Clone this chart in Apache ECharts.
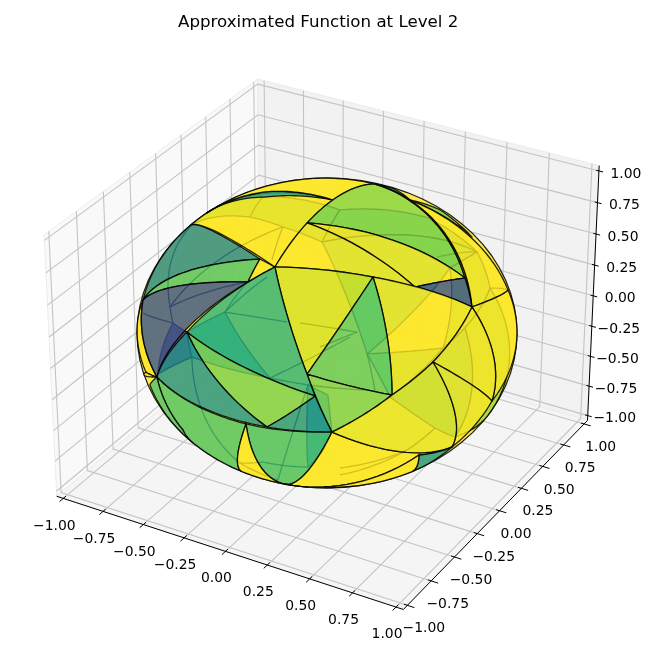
<!DOCTYPE html>
<html><head><meta charset="utf-8">
<style>html,body{margin:0;padding:0;background:#fff}#c{width:649px;height:658px}</style>
<script src="https://cdn.jsdelivr.net/npm/echarts@6/dist/echarts.min.js"></script>
</head><body><div id="c"></div>
<script>
const chartTitle = 'Approximated Function at Level 2';
const tickValues = [-1,-0.75,-0.5,-0.25,0,0.25,0.5,0.75,1];
const tickLabels = ['\u22121.00','\u22120.75','\u22120.50','\u22120.25','0.00','0.25','0.50','0.75','1.00'];

// sphere vertices, in view-disc coordinates (horizontal, vertical; limb radius = 1)
const frontVertices = {
 A:[-.274,.426],B:[-.353,.477],C:[-.416,.329],Tl:[-.721,.697],Li:[-.968,.213],D:[-.895,-.284],O:[-.737,.006],
 N:[-.063,-.406],M:[-.105,-.265],Q:[-.316,-.606],K:[.026,-.639],P:[-.426,-.587],R:[-.447,-.897],S:[-.221,-.987],
 F:[-.105,.710],T:[.253,.961],E:[.726,.355],U:[.437,.858],G:[.463,.297],H:[.763,.168],W:[.953,.277],L:[.242,.361],
 J:[.342,-.400],I:[.558,-.187],X:[.868,-.439],Y:[.658,-.735],Z:[.484,-.787],V1:[-.637,.781],V2:[.032,.858],
 t0:[-.142,1],s1:[-.326,.910],s2:[-.326,.877],t1:[.342,.935],t2:[.595,.794],t3:[.763,.619],
 l0:[-1,.052],l1:[-.953,-.252],l2:[-.968,-.271],l3:[-.932,-.335],l4:[-.721,-.723],h1:[-.758,-.626],
 b0:[.447,-.903],b1:[.358,-.935],b2:[.068,-.994],r0:[1,.019]
};
const frontFaces = [
 ['Li','l0','l1','D'],['l2','D','l1'],['Tl','B','Li'],['Li','B','C'],['Li','C','D'],['B','A','C'],
 ['Tl','V1','V2','A'],['V1','s1','V2','s2'],['V1','s1','V2','T','t0'],['T','t1','U'],['U','t3','t2'],
 ['F','T','E'],['T','U','H','E'],['U','W','H'],['H','W','r0','X'],['F','E','G'],['A','F','G'],['E','H','G'],
 ['A','L','M'],['L','H','I','J'],['L','M','J'],['M','J','K'],['Q','N','K'],['A','M','N','O'],['O','N','Q'],
 ['D','O','Q'],['D','P','R','l4','h1'],['D','h1','l4','l3'],['P','K','S'],['P','R','S'],['K','Y','Z','S'],['I','J','K','Y'],
 ['H','I','X'],['I','X','Y'],['Z','Y','b0'],['S','Z','b0','b1','b2']
];
const frontValues = [1,1,.46,.72,.25,1,1,.55,1,.55,.8,.82,1,1,1,1,1,.25,.94,1,.75,.8,.52,.64,.8,.5,.72,.72,.7,1,1,.97,1,1,.52,1];

const backVertices = {
 e:[1,0],n:[0,1],w:[-1,0],s:[0,-1],
 p1:[-.232,.684],p2:[-.026,.587],p3:[-.405,.748],p4:[-.337,.877],p5:[-.711,.697],p6:[-.826,.168],p7:[-.421,.329],
 p8:[-.537,.135],p9:[-.211,.071],p10:[-.316,.361],p11:[-.737,.006],p13:[-.811,.065],p14:[-.711,-.155],p15:[-.300,-.290],
 p16:[-.105,-.174],p17:[.121,-.026],p18:[-.100,-.335],p19:[.200,-.368],p20:[-.458,-.839],p21:[-.342,-.832],p22:[-.100,-.865],
 p23:[-.258,-.948],p24:[.158,.006],p25:[.211,-.135],p26:[.253,-.374],p27:[.611,-.097],p28:[.647,.419],p29:[.789,.523],
 p30:[.579,.490],p31:[.858,.290],p32:[.726,.032],p34:[.674,-.671],p35:[.568,-.613],p36:[.332,-.413],p37:[.068,-.916],
 p38:[.421,-.755],p39:[-.142,.065],p40:[-.037,-.090],p41:[.068,.794],p42:[-.289,.471],p44:[-.968,.129],p46:[.532,.742],
 p48:[.895,-.561],p49:[-.889,-.265],p50:[.005,-.400],p51:[.026,-.639],p55:[-.026,-.768],p52:[-.632,.794],p53:[.068,-.871],p54:[.384,-.774],
 p56:[.953,.277]
};
// rear edges seen only as faint lines
const backEdges = [
 ['p1','p6'],['p6','p7'],['p3','p4'],['p5','p6'],['p6','p13'],['p44','p13'],['p8','p7'],['p8','p10'],['p8','p9'],['p14','p20'],
 ['p15','p16'],['p16','p17'],['p15','p18'],['p18','p19'],['p24','p39'],['p24','p40'],['p25','p26'],['p18','p23'],['p20','p21'],
 ['p21','p22'],['p23','p20'],['p29','p30'],['p31','p56'],['p35','p38'],['p38','p37'],['p53','p54'],['p54','p38'],['p1','p42'],['p49','p14']
];
// rear faces that tint what is in front of them
const backFaces = [
 ['e','n','w','s'],
 ['p52','p4','p41','p2','p1','p3','p5'],['p2','p41','p46','p29'],['p2','p29','p28','p25'],['p29','p31','p32','p27','p28'],
 ['p13','p11','p14','p49'],['p8','p11','p14','p15'],['p18','p50','p51','p55','p22'],['p25','p27','p36'],['p36','p27','p32','p34','p35'],['p32','p31','p48','p34']
];
const backValues = [1,.8,.78,.75,.85,.12,.55,.5,.8,.72,.85];

// ---- view set-up of the 3D axes
const elevDeg = 30, azimDeg = -60, viewDist = 10, pad = 1 + 1/24;
const halfXY = 0.5714, halfZ = 0.4286;
const pxPerUnit = 3336, cxPx = 327, cyPx = 331.5, W = 649, H = 658;
const sphereRx = 190/pxPerUnit, sphereRy = 155/pxPerUnit, sphereCy = (cyPx-333)/pxPerUnit;
const el = elevDeg*Math.PI/180, az = azimDeg*Math.PI/180;
const vw = [Math.cos(el)*Math.cos(az), Math.cos(el)*Math.sin(az), Math.sin(el)];
const vu = [-Math.sin(az), Math.cos(az), 0];
const vv = [vw[1]*vu[2]-vw[2]*vu[1], vw[2]*vu[0]-vw[0]*vu[2], vw[0]*vu[1]-vw[1]*vu[0]];
function dot(p,q){return p[0]*q[0]+p[1]*q[1]+p[2]*q[2];}
function proj(x,y,z){
  const P=[x*halfXY,y*halfXY,z*halfZ], d=viewDist-dot(P,vw);
  return [dot(P,vu)/d, dot(P,vv)/d];
}
const VIRIDIS=['#440154','#482475','#414487','#355f8d','#2a788e','#21918c','#22a884','#44bf70','#7ad151','#bddf26','#fde725'];
function hex(c){return [1,3,5].map(i=>parseInt(c.substr(i,2),16));}
function viridis(t,alpha){
  const f=Math.min(.9999,Math.max(0,t))*10,i=Math.floor(f),a=hex(VIRIDIS[i]),b=hex(VIRIDIS[i+1]),k=f-i;
  return 'rgba('+[0,1,2].map(j=>Math.round(a[j]+(b[j]-a[j])*k)).join(',')+','+alpha+')';
}
// unit-sphere lift and great-circle arcs in the view frame
function lift(v){
  const r2=v[0]*v[0]+v[1]*v[1];
  if(r2>=1){const r=Math.sqrt(r2);return [v[0]/r,v[1]/r,0];}
  return [v[0],v[1],Math.sqrt(1-r2)];
}
function arc(p,q,n){
  const pts=[],w=Math.acos(Math.min(1,Math.max(-1,dot(p,q))));
  for(let i=0;i<n;i++){
    const t=i/n,s=Math.sin(w);
    const k0=s<1e-6?1-t:Math.sin((1-t)*w)/s,k1=s<1e-6?t:Math.sin(t*w)/s;
    pts.push([k0*p[0]+k1*q[0],k0*p[1]+k1*q[1]]);
  }
  return pts;
}
function facePath(names,verts,api){
  const pts=[];
  names.forEach((nm,i)=>{
    const p=lift(verts[nm]),q=lift(verts[names[(i+1)%names.length]]);
    arc(p,q,18).forEach(c=>pts.push(api.coord([c[0]*sphereRx,c[1]*sphereRy+sphereCy])));
  });
  return pts;
}
function faceSeries(faces,values,verts,z){
  return {type:'custom',coordinateSystem:'cartesian2d',silent:true,z,clip:false,
    data:faces.map((f,i)=>[i]),encode:{x:0,y:0},
    renderItem(params,api){
      const i=api.value(0);
      return {type:'polygon',shape:{points:facePath(faces[i],verts,api)},
        style:{fill:viridis(values[i],.8),stroke:'rgba(0,0,0,.85)',lineWidth:1.3,lineJoin:'round'}};
    }};
}
function edgeSeries(edges,verts,z){
  return {type:'custom',coordinateSystem:'cartesian2d',silent:true,z,clip:false,
    data:edges.map((f,i)=>[i]),encode:{x:0,y:0},
    renderItem(params,api){
      const e=edges[api.value(0)],p=lift(verts[e[0]]),q=lift(verts[e[1]]);
      const pts=arc(p,q,18).concat([[q[0],q[1]]]).map(c=>api.coord([c[0]*sphereRx,c[1]*sphereRy+sphereCy]));
      return {type:'polyline',shape:{points:pts},style:{stroke:'rgba(0,0,0,.85)',lineWidth:1.3,fill:null}};
    }};
}
// ---- panes, grid, axis lines
const panes = [
  {c:[[-pad,-pad,-pad],[-pad,pad,-pad],[-pad,pad,pad],[-pad,-pad,pad]],fill:'#f9f9f9'},
  {c:[[-pad,pad,-pad],[pad,pad,-pad],[pad,pad,pad],[-pad,pad,pad]],fill:'#f2f2f2'},
  {c:[[-pad,-pad,-pad],[pad,-pad,-pad],[pad,pad,-pad],[-pad,pad,-pad]],fill:'#f5f5f5'}
];
const gridLines=[];
tickValues.forEach(t=>{
  gridLines.push([[t,-pad,-pad],[t,pad,-pad],[t,pad,pad]]);
  gridLines.push([[pad,t,-pad],[-pad,t,-pad],[-pad,t,pad]]);
  gridLines.push([[-pad,-pad,t],[-pad,pad,t],[pad,pad,t]]);
});
const axisLines=[[[-pad,-pad,-pad],[pad,-pad,-pad]],[[pad,-pad,-pad],[pad,pad,-pad]],[[pad,pad,-pad],[pad,pad,pad]]];
const tickMarks=[],tickTexts=[];
tickValues.forEach((t,i)=>{
  tickMarks.push([[t,-pad-.035,-pad],[t,-pad+.025,-pad]]);
  tickMarks.push([[pad-.02,t,-pad],[pad+.04,t,-pad]]);
  tickMarks.push([[pad-.016,pad,t],[pad+.024,pad,t]]);
  tickTexts.push({p:[t,-pad,-pad],dx:-9,dy:27.5,text:tickLabels[i]});
  tickTexts.push({p:[pad,t,-pad],dx:16.5,dy:23.5,text:tickLabels[i]});
  tickTexts.push({p:[pad,pad,t],dx:27,dy:3,text:tickLabels[i]});
});
function lineSeries(lines,color,width,z){
  return {type:'custom',coordinateSystem:'cartesian2d',silent:true,z,clip:false,
    data:lines.map((l,i)=>[i]),encode:{x:0,y:0},
    renderItem(params,api){
      return {type:'polyline',shape:{points:lines[api.value(0)].map(p=>api.coord(proj(p[0],p[1],p[2])))},
        style:{stroke:color,lineWidth:width,fill:null}};
    }};
}
const option={
  animation:false,
  title:{text:chartTitle,left:173,top:9,textStyle:{fontFamily:'DejaVu Sans',fontSize:16.67,fontWeight:'normal',color:'#000'}},
  grid:{left:0,right:0,top:0,bottom:0},
  xAxis:{type:'value',show:false,min:-cxPx/pxPerUnit,max:(W-cxPx)/pxPerUnit},
  yAxis:{type:'value',show:false,min:(cyPx-H)/pxPerUnit,max:cyPx/pxPerUnit},
  series:[
    {type:'custom',coordinateSystem:'cartesian2d',silent:true,z:1,clip:false,data:panes.map((p,i)=>[i]),encode:{x:0,y:0},
     renderItem(params,api){const p=panes[api.value(0)];
       return {type:'polygon',shape:{points:p.c.map(c=>api.coord(proj(c[0],c[1],c[2])))},style:{fill:p.fill,stroke:'#ececec',lineWidth:1}};}},
    lineSeries(gridLines,'#c4c4c4',1.1,2),
    faceSeries(backFaces,backValues,backVertices,3),
    edgeSeries(backEdges,backVertices,3.5),
    faceSeries(frontFaces,frontValues,frontVertices,4),
    lineSeries(axisLines,'#000',1,5),
    lineSeries(tickMarks,'#000',1,5),
    {type:'custom',coordinateSystem:'cartesian2d',silent:true,z:6,clip:false,data:tickTexts.map((t,i)=>[i]),encode:{x:0,y:0},
     renderItem(params,api){const t=tickTexts[api.value(0)],c=api.coord(proj(t.p[0],t.p[1],t.p[2]));
       return {type:'text',style:{text:t.text,x:c[0]+t.dx,y:c[1]+t.dy,fill:'#000',fontFamily:'DejaVu Sans',fontSize:13.9,align:'center',verticalAlign:'middle'}};}}
  ]
};
echarts.init(document.getElementById('c'),null,{renderer:'canvas'}).setOption(option);
</script></body></html>
